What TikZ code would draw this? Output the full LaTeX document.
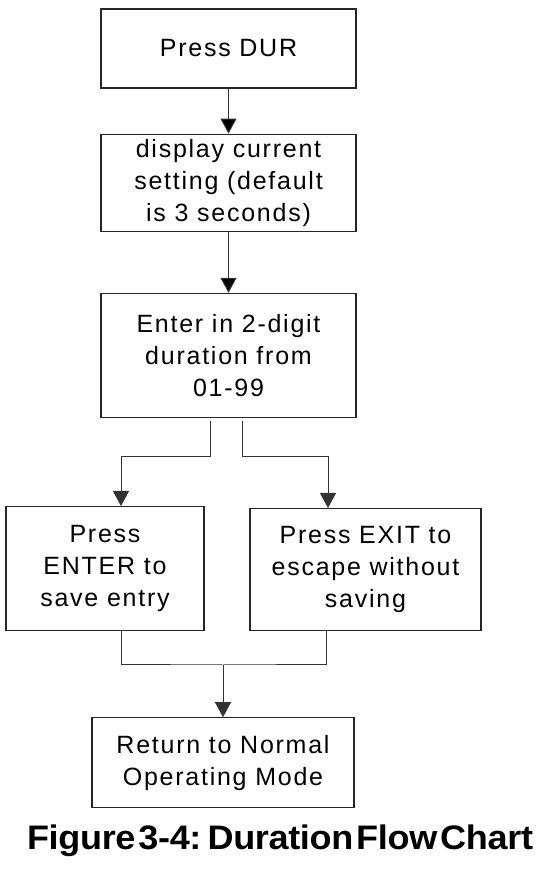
\documentclass[tikz,border=0pt]{standalone}
\usepackage{fontspec}
\setmainfont{Liberation Sans}
\newfontfamily\boxfont[LetterSpace=7]{Liberation Sans}
\newfontfamily\capfont[LetterSpace=-1,WordSpace=0.3,FakeStretch=1.06]{Liberation Sans}
\usetikzlibrary{arrows.meta,positioning}

\begin{document}
\begin{tikzpicture}[x=1pt,y=1pt,>={Triangle[length=15pt,width=16pt]},
	box/.style={rectangle,draw=black!85,line width=1.2pt,align=center,inner sep=0pt,
		minimum width=255pt,font=\boxfont\fontsize{25}{32}\selectfont},
	line/.style={draw=black!80,line width=1pt}]

\useasboundingbox (0,0) rectangle (550,870);

\node[box,minimum height=79pt]   (dur)   at (228.5,821.5)      {Press DUR};
\node[box,minimum height=97pt]   (disp)  [below=45pt of dur]   {display current\\setting (default\\is 3 seconds)};
\node[box,minimum height=124pt]  (entry) [below=61pt of disp]  {Enter in 2-digit\\duration from\\01-99};
\node[box,minimum width=198pt,minimum height=124pt]  (enter) [below=88pt of entry,xshift=-123.5pt]  {Press\\ENTER to\\save entry};
\node[box,minimum width=231pt,minimum height=122pt]  (exit)  [below=90pt of entry,xshift=137pt]     {Press EXIT to\\escape without\\saving};
\node[box,minimum width=262pt,minimum height=90pt]   (ret)   [below=86pt of enter,xshift=118pt]     {Return to Normal\\Operating Mode};

\node[anchor=base,font=\capfont\bfseries\fontsize{34}{38}\selectfont] (cap) at (280,20) {Figure 3-4: Duration Flow Chart};

\coordinate (sl) at (210,413);
\coordinate (sr) at (242,413);
\coordinate (mj) at (223,205);

	\path[line,->] (dur)  edge (disp)
	               (disp) edge (entry);

	\draw[line,->] ([xshift=-18.5pt,yshift=-3pt]entry.south) -- (sl) -| ([xshift=16pt]enter.north);
	\draw[line,->] ([xshift=13.5pt,yshift=-3pt]entry.south) -- (sr) -| ([xshift=-37.5pt]exit.north);
	\draw[line] ([xshift=16pt]enter.south) |- (mj) -| ([xshift=-39.5pt]exit.south);
	\draw[line,->] (mj) -- (ret);

\end{tikzpicture}
\end{document}
